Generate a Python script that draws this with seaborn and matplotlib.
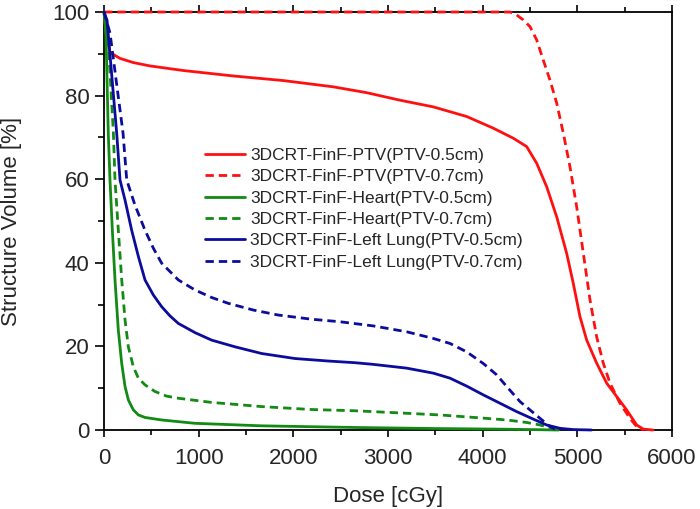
import numpy as np
import pandas as pd
import matplotlib
matplotlib.use('Agg')
import matplotlib.pyplot as plt
from matplotlib.ticker import MultipleLocator
import seaborn as sns

# Dose-volume histogram curves (dose in cGy, volume in %)
ptv05_dose = [0, 20, 63, 169, 310, 486, 838, 1366, 1894, 2422, 2775, 3127, 3479, 3831,
              4113, 4324, 4465, 4571, 4676, 4782, 4887, 4957, 5028, 5099, 5204, 5310,
              5416, 5521, 5627, 5697, 5800]
ptv05_vol = [100, 95, 90.3, 88.9, 87.9, 87.1, 86.0, 84.7, 83.6, 82.1, 80.7, 78.9, 77.3, 75.0,
             72.2, 69.8, 67.8, 63.8, 58.2, 51.0, 42.3, 35.1, 27.1, 21.5, 16.0, 11.2,
             8.0, 4.8, 1.2, 0.2, 0]

ptv07_dose = [0, 4289, 4359, 4429, 4500, 4571, 4640, 4711, 4782, 4852, 4922, 4993, 5063,
              5134, 5204, 5274, 5345, 5450, 5556, 5627, 5697]
ptv07_vol = [100, 100, 99.3, 98.1, 96.5, 93.3, 88.5, 83.7, 78.2, 71.0, 63.0, 53.4, 42.3,
             31.1, 22.3, 16.0, 11.2, 6.4, 2.8, 0.8, 0]

heart05_dose = [0, 20, 45, 63, 88, 116, 151, 187, 222, 257, 310, 363, 433, 609, 961,
                1665, 2651, 3500, 4200, 4800]
heart05_vol = [100, 95, 71, 59.8, 47.8, 35.9, 23.9, 15.9, 10.4, 7.2, 4.8, 3.6, 3.0, 2.4, 1.6,
               1.0, 0.6, 0.35, 0.2, 0]

heart07_dose = [0, 40, 99, 116, 151, 187, 222, 257, 310, 363, 433, 539, 662, 785, 1137,
                1665, 2194, 2651, 3021, 3549, 3972, 4254, 4465, 4605, 4711, 4764]
heart07_vol = [100, 95, 71, 59.8, 47.8, 35.9, 26.3, 19.9, 15.1, 12.4, 10.8, 9.2, 8.1, 7.6, 6.6,
               5.6, 4.9, 4.6, 4.2, 3.6, 2.9, 2.4, 1.8, 1.2, 0.6, 0]

lung05_dose = [0, 32, 134, 169, 222, 292, 363, 433, 521, 609, 697, 785, 961, 1137, 1384,
               1665, 2017, 2370, 2651, 2845, 3197, 3479, 3655, 3831, 4007, 4183, 4359,
               4535, 4676, 4817, 4957, 5150]
lung05_vol = [100, 98, 71, 59.8, 55.0, 47.8, 41.5, 35.9, 32.3, 29.5, 27.3, 25.5, 23.3, 21.5, 19.9,
              18.3, 17.1, 16.5, 16.1, 15.7, 14.8, 13.6, 12.4, 10.5, 8.4, 6.4, 4.4,
              2.6, 1.2, 0.4, 0.1, 0]

lung07_dose = [0, 63, 201, 240, 327, 433, 521, 609, 785, 961, 1137, 1313, 1577, 1841, 2194,
               2493, 2845, 3197, 3479, 3655, 3831, 4007, 4148, 4254, 4394, 4500, 4605,
               4711, 4782]
lung07_vol = [100, 95, 71, 59.8, 53.8, 47.8, 43.5, 39.9, 35.9, 33.5, 31.7, 30.3, 28.7, 27.5, 26.5,
              25.9, 24.9, 23.5, 21.9, 20.7, 18.7, 15.9, 13.2, 10.4, 6.8, 4.8, 2.8,
              0.8, 0]

dash = (0, (3, 1.8))
curves = [
    ('3DCRT-FinF-PTV(PTV-0.5cm)', ptv05_dose, ptv05_vol, '#ff1010', '-'),
    ('3DCRT-FinF-PTV(PTV-0.7cm)', ptv07_dose, ptv07_vol, '#ff1010', dash),
    ('3DCRT-FinF-Heart(PTV-0.5cm)', heart05_dose, heart05_vol, '#138a13', '-'),
    ('3DCRT-FinF-Heart(PTV-0.7cm)', heart07_dose, heart07_vol, '#138a13', dash),
    ('3DCRT-FinF-Left Lung(PTV-0.5cm)', lung05_dose, lung05_vol, '#0c0c9c', '-'),
    ('3DCRT-FinF-Left Lung(PTV-0.7cm)', lung07_dose, lung07_vol, '#0c0c9c', dash),
]

sns.set_style('ticks')
plt.rcParams['font.family'] = ['Liberation Sans', 'DejaVu Sans']

fig = plt.figure(figsize=(7, 5.09), dpi=100)
ax = fig.add_axes([0.1486, 0.1552, 0.8114, 0.8212])

for label, dose, vol, color, ls in curves:
    df = pd.DataFrame({'Dose': dose, 'Volume': vol})
    sns.lineplot(data=df, x='Dose', y='Volume', ax=ax, color=color, linestyle=ls,
                 linewidth=2.0, label=label, sort=False, clip_on=False, zorder=3)

ax.set_xlim(0, 6000)
ax.set_ylim(0, 100)
ax.xaxis.set_major_locator(MultipleLocator(1000))
ax.xaxis.set_minor_locator(MultipleLocator(500))
ax.yaxis.set_major_locator(MultipleLocator(20))
ax.yaxis.set_minor_locator(MultipleLocator(10))

for side in ['top', 'right', 'left', 'bottom']:
    ax.spines[side].set_visible(True)
    ax.spines[side].set_color('black')
    ax.spines[side].set_linewidth(1.3)

ax.tick_params(which='both', direction='out', top=True, right=False,
               labeltop=False, color='black', width=1.2, labelsize=16)
ax.tick_params(axis='x', which='major', length=5, pad=8)
ax.tick_params(axis='x', which='minor', length=3.5)
ax.tick_params(axis='y', which='major', length=6.5, pad=4)
ax.tick_params(axis='y', which='minor', length=4)

ax.set_xlabel('Dose [cGy]', fontsize=16, labelpad=12)
ax.set_ylabel('Structure Volume [%]', fontsize=16, labelpad=22)

leg = ax.legend(loc='upper left', bbox_to_anchor=(0.166, 0.692), frameon=False,
                fontsize=12.5, handlelength=2.3, handletextpad=0.3,
                labelspacing=0.36, borderaxespad=0)

fig.savefig('out.png', dpi=100)
